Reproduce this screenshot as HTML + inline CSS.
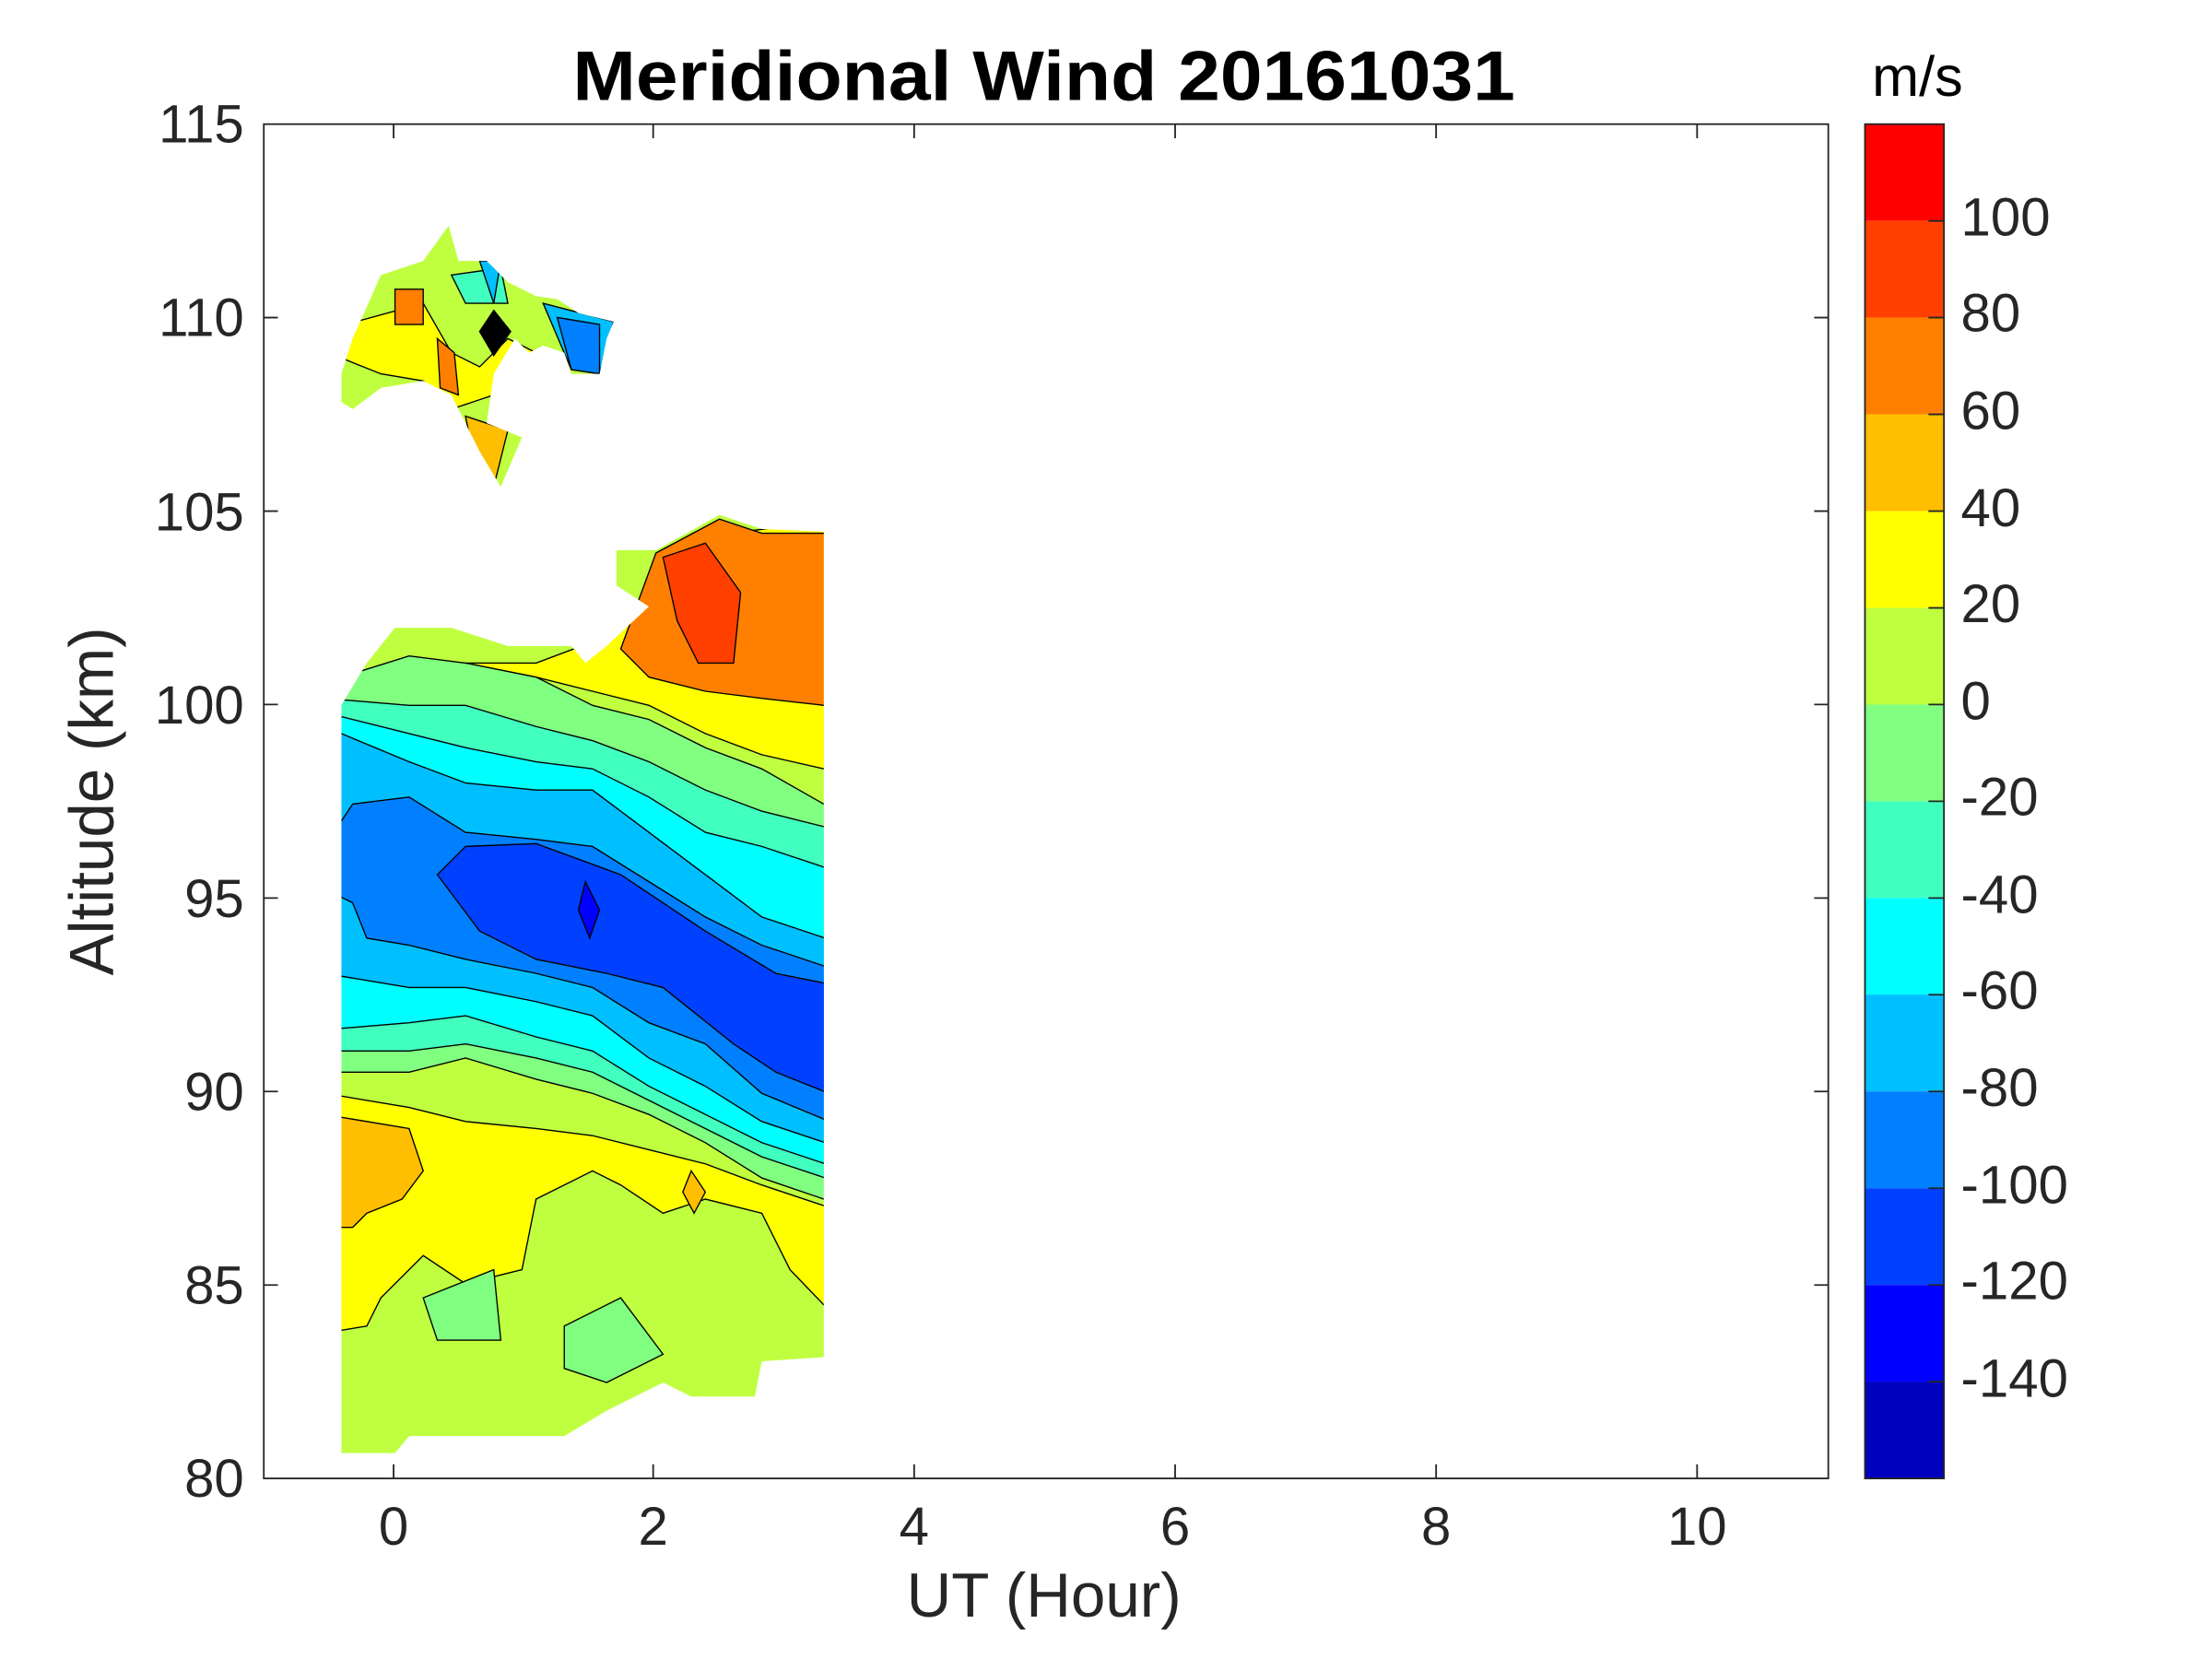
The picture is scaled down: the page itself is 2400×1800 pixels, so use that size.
<!DOCTYPE html>
<html><head><meta charset="utf-8"><style>
html,body{margin:0;padding:0;background:#fff;}
svg{display:block;}
text{font-family:"Liberation Sans",Arial,sans-serif;fill:#262626;}
</style></head><body>
<svg width="2400" height="1800" viewBox="0 0 1568 1176" preserveAspectRatio="none" xmlns="http://www.w3.org/2000/svg">
<rect width="1568" height="1176" fill="#fff"/>
<defs>
<clipPath id="main"><polygon points="242,1030 242,500 260,470 280,445 320,445 360,458 405,458 415,470 430,458 460,430 437,415 437,390 465,390 510,365 540,375 584,377 584,962 540,965 535,990 490,990 470,980 430,1000 400,1018 350,1018 290,1018 280,1030"/></clipPath>
<clipPath id="isl"><polygon points="242,265 250,240 270,195 300,185 318,160 325,185 345,185 360,200 380,210 395,212 410,222 435,228 430,240 425,265 405,265 400,250 385,245 375,250 365,240 350,265 345,300 370,310 355,345 340,320 330,300 320,280 300,270 270,275 250,290 242,285"/></clipPath>
</defs>
<g clip-path="url(#main)" stroke="#000" stroke-width="0.9">
<rect x="230" y="350" width="380" height="700" fill="#BFFF40"/>
<polygon fill="#FFFF00" points="330,470 380,470 420,455 440,440 460,420 500,380 584,370 600,370 600,545 584,545 540,535 500,520 460,500 420,490 380,480"/>
<polygon fill="#FF8000" points="440,460 465,392 510,368 540,378 600,378 600,500 584,500 540,495 500,490 460,480"/>
<polygon fill="#FF4000" points="470,395 500,385 525,420 520,470 495,470 480,440"/>
<polygon fill="#FFFF00" points="230,775 290,785 330,795 380,800 420,805 460,815 500,825 540,840 600,860 600,920 584,925 560,900 540,860 500,850 470,860 440,840 420,830 380,850 370,900 330,910 300,890 270,920 260,940 230,945"/>
<polygon fill="#FFBF00" points="230,790 290,800 300,830 285,850 260,860 250,870 230,870"/>
<polygon fill="#FFBF00" points="490,830 500,845 492,860 484,845"/>
<polygon fill="#80FF80" points="300,920 350,900 355,950 310,950"/>
<polygon fill="#80FF80" points="400,940 440,920 470,960 430,980 400,970"/>
<polygon fill="#80FF80" points="230,480 242,480 290,465 330,470 380,480 420,500 460,510 500,530 540,545 584,570 600,570 600,850 584,850 540,835 500,810 460,790 420,775 380,765 330,750 290,760 242,760 230,760"/>
<polygon fill="#40FFBF" points="230,495 290,500 330,500 380,515 420,525 460,540 500,560 540,575 600,590 600,840 540,820 500,800 460,780 420,760 380,750 330,740 290,745 230,745"/>
<polygon fill="#00FFFF" points="230,505 290,520 330,530 380,540 420,545 460,565 500,590 540,600 600,620 600,830 540,810 500,790 460,770 420,745 380,735 330,720 290,725 230,730"/>
<polygon fill="#00BFFF" points="230,515 290,540 330,555 380,560 420,560 460,590 500,620 540,650 600,670 600,815 540,795 500,770 460,750 420,720 380,710 330,700 290,700 230,690"/>
<polygon fill="#0080FF" points="230,600 250,570 290,565 330,590 380,595 420,600 460,625 500,650 540,670 600,690 600,800 540,775 500,740 460,725 420,700 380,690 330,680 290,670 260,665 250,640 230,630"/>
<polygon fill="#0040FF" points="310,620 330,600 380,598 440,620 470,640 500,660 550,690 600,700 600,780 550,760 520,740 470,700 430,690 380,680 340,660"/>
<polygon fill="#0000FF" points="415,625 425,645 418,665 410,645"/>
</g>
<g clip-path="url(#isl)" stroke="#000" stroke-width="0.9">
<rect x="230" y="150" width="220" height="200" fill="#BFFF40"/>
<polygon fill="#FFFF00" points="245,230 300,215 320,250 340,260 360,240 380,250 350,280 320,290 300,270 270,265 245,255"/>
<polygon fill="#FF8000" points="280,205 300,205 300,230 280,230"/>
<polygon fill="#FF8000" points="310,240 322,250 325,280 312,275"/>
<polygon fill="#40FFBF" points="320,195 355,190 360,215 330,215"/>
<polygon fill="#00BFFF" points="340,185 355,185 350,215"/>
<polygon fill="#000" points="350,220 362,235 350,252 340,235"/>
<polygon fill="#00BFFF" points="385,215 435,228 425,265 405,262"/>
<polygon fill="#0080FF" points="395,225 425,230 425,265 405,262"/>
<polygon fill="#FFBF00" points="330,295 360,305 350,345 335,320"/>
</g>
<!-- axes -->
<rect x="187" y="88" width="1109" height="960" fill="none" stroke="#262626" stroke-width="1.2"/>
<g stroke="#262626" stroke-width="1.2">
<path d="M279,1048v-10M463,1048v-10M648,1048v-10M833,1048v-10M1018,1048v-10M1203,1048v-10M279,88v10M463,88v10M648,88v10M833,88v10M1018,88v10M1203,88v10"/>
<path d="M187,910.9h10M187,773.7h10M187,636.6h10M187,499.4h10M187,362.3h10M187,225.1h10M1296,910.9h-10M1296,773.7h-10M1296,636.6h-10M1296,499.4h-10M1296,362.3h-10M1296,225.1h-10"/>
</g>
<g font-size="38" text-anchor="end">
<text x="173" y="1061">80</text><text x="173" y="924">85</text><text x="173" y="787">90</text>
<text x="173" y="650">95</text><text x="173" y="513">100</text><text x="173" y="376">105</text>
<text x="173" y="238">110</text><text x="173" y="101">115</text>
</g>
<g font-size="38" text-anchor="middle">
<text x="279" y="1095">0</text><text x="463" y="1095">2</text><text x="648" y="1095">4</text>
<text x="833" y="1095">6</text><text x="1018" y="1095">8</text><text x="1203" y="1095">10</text>
</g>
<text x="740" y="1146" font-size="44" text-anchor="middle">UT (Hour)</text>
<text transform="translate(80,568) rotate(-90)" font-size="44" text-anchor="middle">Altitude (km)</text>
<text x="740" y="71" font-size="50" font-weight="bold" text-anchor="middle" style="fill:#000" textLength="668" lengthAdjust="spacingAndGlyphs">Meridional Wind 20161031</text>
<!-- colorbar -->
<g>
<rect x="1322" y="88" width="56" height="68.6" fill="#FF0000"/>
<rect x="1322" y="156.6" width="56" height="68.6" fill="#FF4000"/>
<rect x="1322" y="225.1" width="56" height="68.6" fill="#FF8000"/>
<rect x="1322" y="293.7" width="56" height="68.6" fill="#FFBF00"/>
<rect x="1322" y="362.3" width="56" height="68.6" fill="#FFFF00"/>
<rect x="1322" y="430.9" width="56" height="68.6" fill="#BFFF40"/>
<rect x="1322" y="499.4" width="56" height="68.6" fill="#80FF80"/>
<rect x="1322" y="568" width="56" height="68.6" fill="#40FFBF"/>
<rect x="1322" y="636.6" width="56" height="68.6" fill="#00FFFF"/>
<rect x="1322" y="705.1" width="56" height="68.6" fill="#00BFFF"/>
<rect x="1322" y="773.7" width="56" height="68.6" fill="#0080FF"/>
<rect x="1322" y="842.3" width="56" height="68.6" fill="#0040FF"/>
<rect x="1322" y="910.9" width="56" height="68.6" fill="#0000FF"/>
<rect x="1322" y="979.4" width="56" height="68.6" fill="#0000BF"/>
<rect x="1322" y="88" width="56" height="960" fill="none" stroke="#262626" stroke-width="1.2"/>
<path stroke="#262626" stroke-width="1.2" d="M1378,156.6h-11M1378,225.1h-11M1378,293.7h-11M1378,362.3h-11M1378,430.9h-11M1378,499.4h-11M1378,568h-11M1378,636.6h-11M1378,705.1h-11M1378,773.7h-11M1378,842.3h-11M1378,910.9h-11M1378,979.4h-11"/>
</g>
<g font-size="38">
<text x="1390" y="167">100</text><text x="1390" y="235">80</text><text x="1390" y="304">60</text>
<text x="1390" y="373">40</text><text x="1390" y="441">20</text><text x="1390" y="510">0</text>
<text x="1390" y="578">-20</text><text x="1390" y="647">-40</text><text x="1390" y="715">-60</text>
<text x="1390" y="784">-80</text><text x="1390" y="853">-100</text><text x="1390" y="921">-120</text>
<text x="1390" y="990">-140</text>
</g>
<text x="1327" y="68" font-size="40" style="fill:#000">m/s</text>
</svg>
</body></html>
